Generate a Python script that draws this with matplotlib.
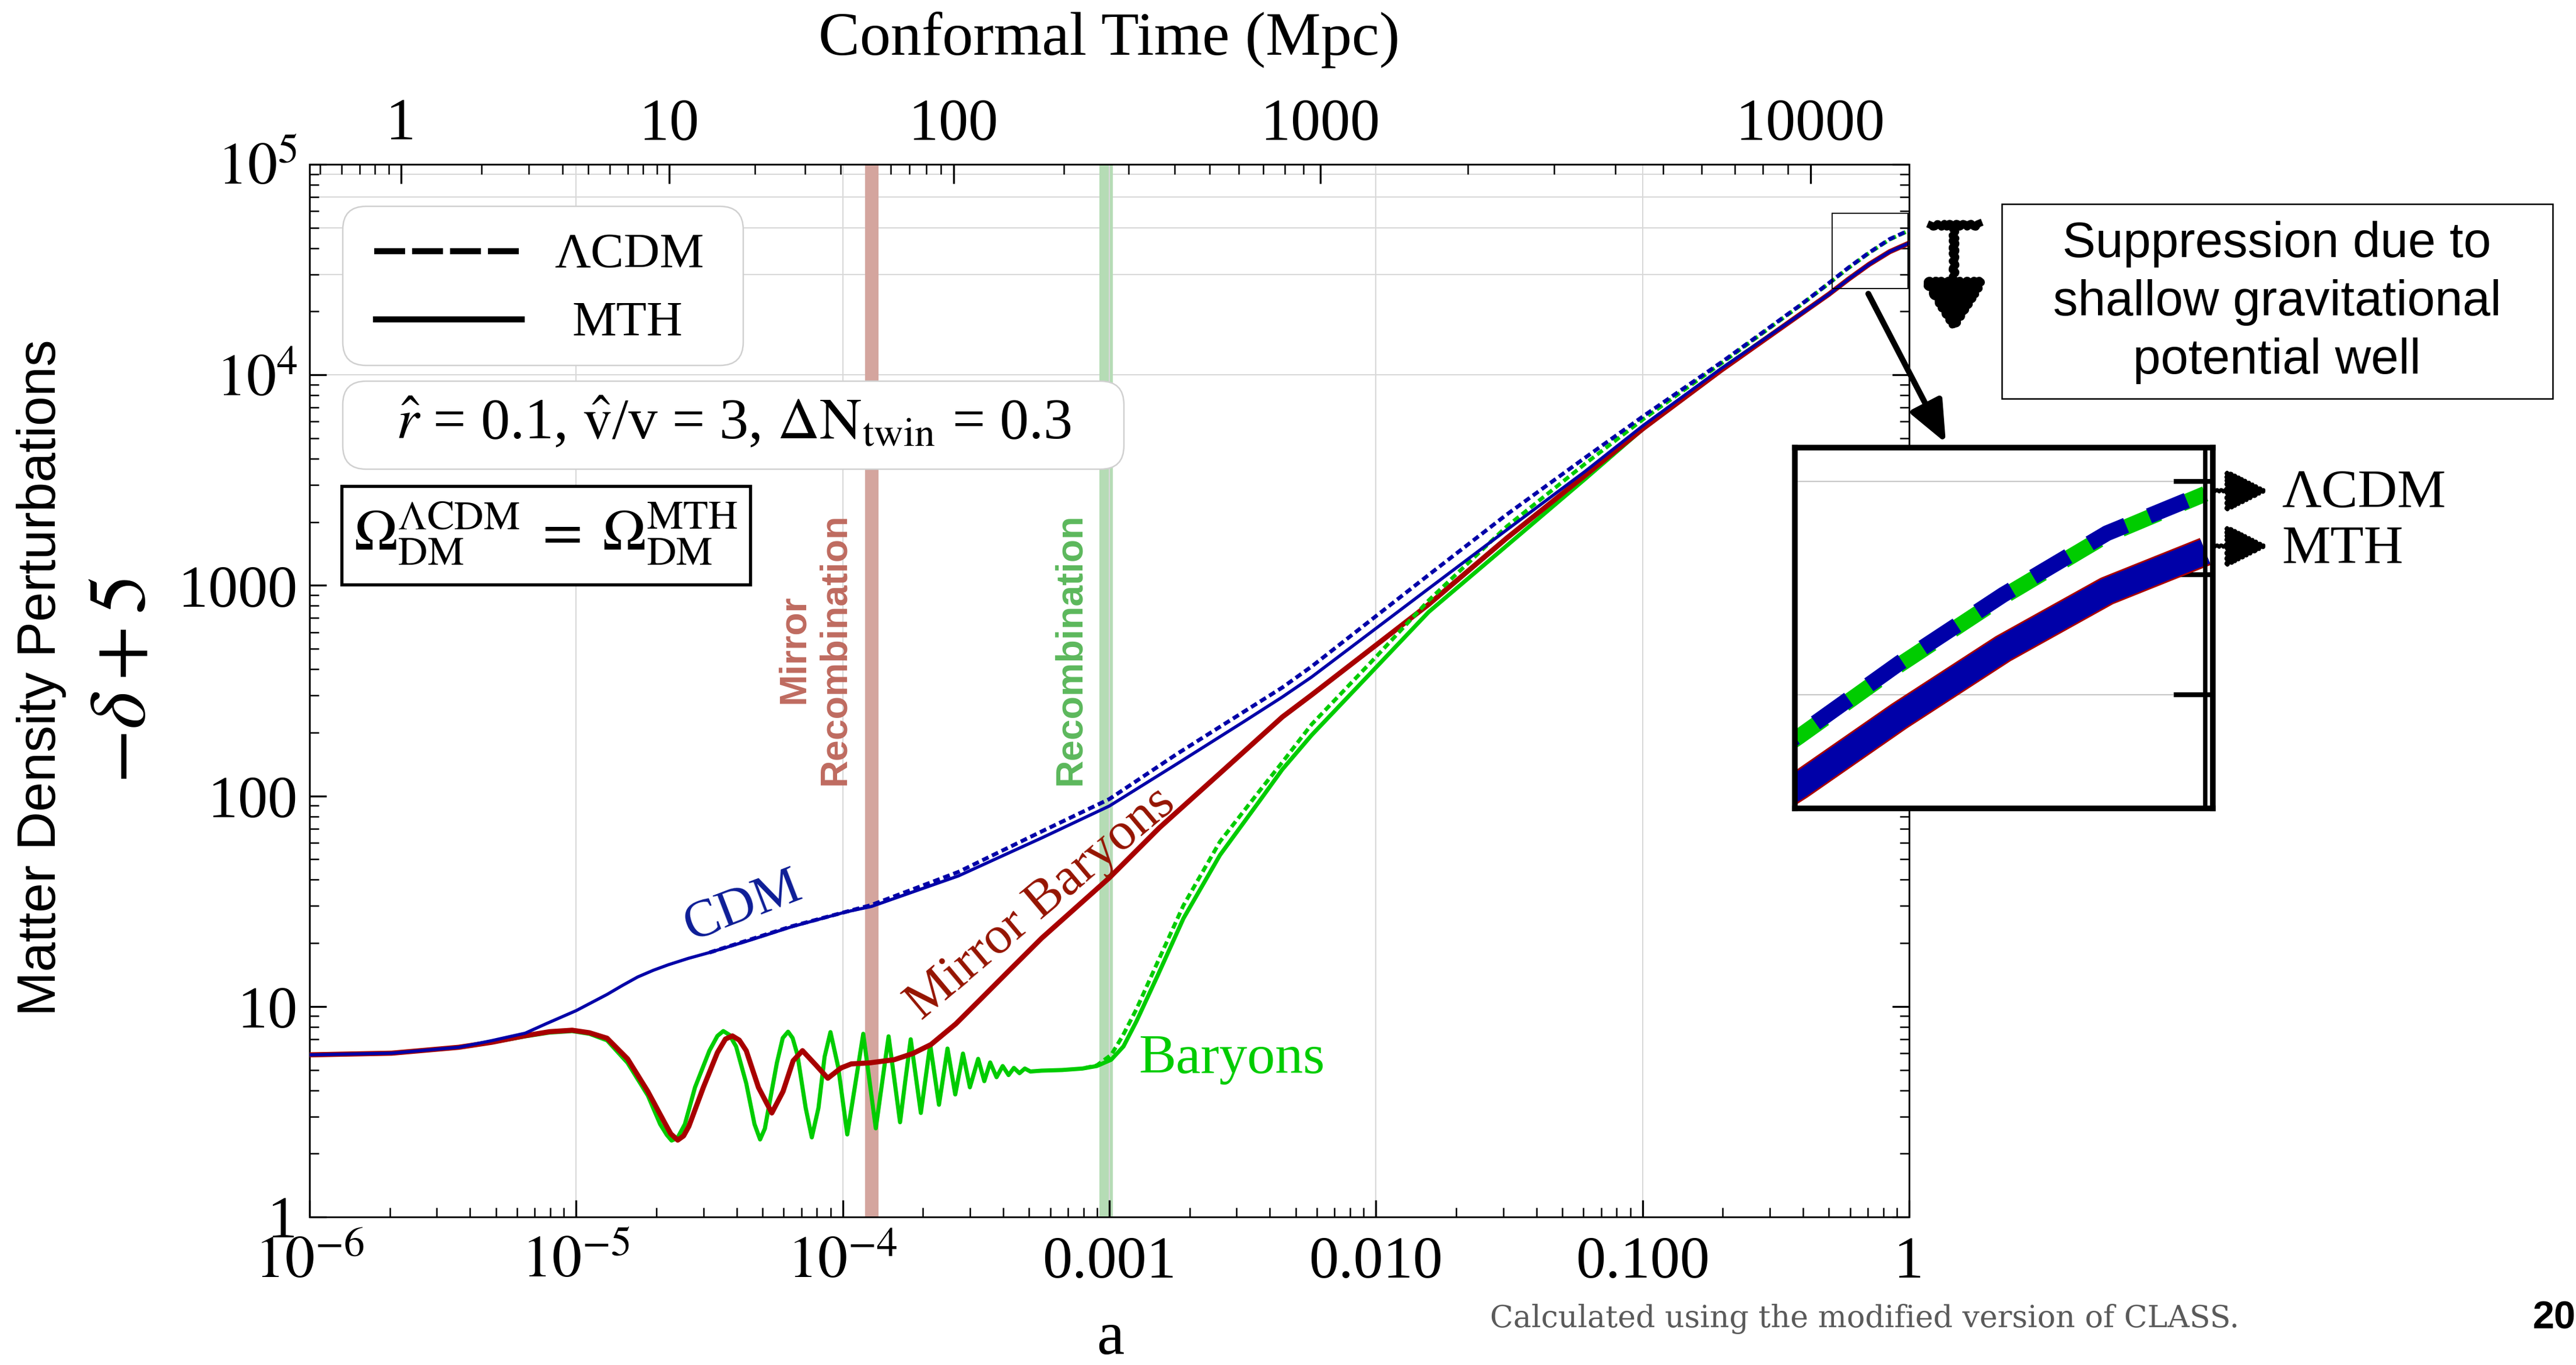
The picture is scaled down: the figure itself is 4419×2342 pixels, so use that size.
"""Density perturbation growth -delta+5 vs scale factor: CDM, baryons and mirror baryons (MTH vs LCDM)."""

import numpy as np
import matplotlib

matplotlib.use("Agg")
import matplotlib.pyplot as plt
from matplotlib.lines import Line2D
from matplotlib.patches import FancyArrowPatch, FancyBboxPatch, Rectangle
from matplotlib.ticker import FixedLocator, FuncFormatter, LogLocator, NullFormatter, NullLocator

W, H, DPI = 4419, 2342, 300

plt.rcParams["font.family"] = ["Liberation Serif", "DejaVu Serif"]
plt.rcParams["mathtext.fontset"] = "stix"
plt.rcParams["lines.scale_dashes"] = False
plt.rcParams["axes.linewidth"] = 0.7

# --- curves: log10(a) -> log10(-delta + 5) ---
cdm_log_a = [-6.0, -5.692, -5.44, -5.315, -5.191, -5.114, -5.0, -4.884, -4.826, -4.769,
             -4.71, -4.654, -4.58, -4.5, -4.347, -4.193, -3.988, -3.892, -3.566, -3.251,
             -3.0, -2.748, -2.499, -2.351, -2.241, -1.802, -1.509, -1.216, -0.997, -0.704,
             -0.411, -0.301, -0.227, -0.150, -0.073, 0.0]
cdm_log_y = [0.770, 0.778, 0.806, 0.838, 0.873, 0.917, 0.980, 1.057, 1.100, 1.140,
             1.172, 1.198, 1.228, 1.256, 1.315, 1.378, 1.449, 1.475, 1.620, 1.802,
             1.952, 2.151, 2.350, 2.470, 2.565, 2.985, 3.264, 3.541, 3.760, 4.031,
             4.285, 4.383, 4.455, 4.525, 4.585, 4.626]

lcdm_cdm_log_a = [-4.5, -4.193, -3.892, -3.566, -3.251, -3.0, -2.748, -2.499, -2.351, -2.241,
                  -1.802, -1.509, -1.216, -0.997, -0.704, -0.411, -0.301, -0.227, -0.150, -0.073,
                  0.0]
lcdm_cdm_log_y = [1.256, 1.380, 1.482, 1.639, 1.833, 1.985, 2.198, 2.397, 2.515, 2.615,
                  3.050, 3.337, 3.606, 3.804, 4.060, 4.329, 4.436, 4.510, 4.581, 4.645,
                  4.687]

mirror_log_a = [-6.0, -5.692, -5.44, -5.315, -5.191, -5.1, -5.015, -4.95, -4.884, -4.807,
                -4.731, -4.669, -4.645, -4.619, -4.597, -4.577, -4.523, -4.470, -4.440, -4.414,
                -4.388, -4.362, -4.316, -4.266, -4.224, -4.186, -4.151, -4.101, -4.056, -4.006,
                -3.968, -3.899, -3.807, -3.738, -3.669, -3.576, -3.484, -3.369, -3.254, -3.108,
                -3.0, -2.812, -2.561, -2.351, -2.241, -1.802, -1.509, -1.216, -0.997, -0.704,
                -0.411, -0.301, -0.227, -0.150, -0.073, 0.0]
mirror_log_y = [0.770, 0.778, 0.806, 0.830, 0.861, 0.880, 0.887, 0.875, 0.849, 0.751,
                0.596, 0.450, 0.395, 0.365, 0.385, 0.431, 0.615, 0.781, 0.845, 0.860,
                0.840, 0.790, 0.615, 0.494, 0.596, 0.742, 0.790, 0.722, 0.659, 0.708,
                0.727, 0.732, 0.747, 0.776, 0.819, 0.917, 1.033, 1.179, 1.324, 1.489,
                1.611, 1.849, 2.135, 2.375, 2.480, 2.910, 3.225, 3.522, 3.746, 4.023,
                4.285, 4.383, 4.455, 4.525, 4.585, 4.626]

baryon_log_a = [-6.0, -5.692, -5.44, -5.315, -5.191, -5.1, -5.015, -4.95, -4.884, -4.807,
                -4.731, -4.685, -4.660, -4.642, -4.620, -4.592, -4.554, -4.500, -4.470, -4.448,
                -4.425, -4.400, -4.362, -4.331, -4.310, -4.292, -4.278, -4.247, -4.225, -4.205,
                -4.188, -4.170, -4.139, -4.116, -4.091, -4.068, -4.046, -4.017, -3.983, -3.953,
                -3.923, -3.900, -3.876, -3.852, -3.828, -3.806, -3.785, -3.765, -3.745, -3.707,
                -3.672, -3.639, -3.607, -3.578, -3.549, -3.523, -3.492, -3.469, -3.447, -3.423,
                -3.400, -3.378, -3.358, -3.337, -3.317, -3.296, -3.254, -3.177, -3.101, -3.047,
                -2.993, -2.947, -2.898, -2.819, -2.722, -2.585, -2.436, -2.351, -2.241, -2.0,
                -1.802, -1.509, -1.216, -0.997, -0.704, -0.411, -0.301, -0.227, -0.150, -0.073,
                0.0]
baryon_log_y = [0.770, 0.778, 0.806, 0.830, 0.858, 0.876, 0.883, 0.870, 0.839, 0.732,
                0.577, 0.441, 0.390, 0.363, 0.375, 0.441, 0.616, 0.790, 0.860, 0.883,
                0.865, 0.810, 0.635, 0.441, 0.368, 0.420, 0.518, 0.732, 0.850, 0.880,
                0.850, 0.771, 0.518, 0.378, 0.518, 0.761, 0.878, 0.712, 0.392, 0.630,
                0.870, 0.650, 0.421, 0.640, 0.858, 0.650, 0.450, 0.650, 0.844, 0.494,
                0.819, 0.533, 0.800, 0.582, 0.776, 0.616, 0.751, 0.645, 0.734, 0.664,
                0.717, 0.674, 0.708, 0.683, 0.705, 0.691, 0.695, 0.698, 0.705, 0.717,
                0.747, 0.810, 0.930, 1.146, 1.418, 1.719, 1.977, 2.126, 2.289, 2.610,
                2.874, 3.189, 3.505, 3.745, 4.028, 4.285, 4.383, 4.455, 4.525, 4.585,
                4.626]

lcdm_baryon_log_a = [-3.101, -3.047, -2.993, -2.950, -2.898, -2.819, -2.722, -2.585, -2.429, -2.351,
                     -2.241, -2.0, -1.802, -1.509, -1.216, -0.997, -0.704, -0.411, -0.301, -0.227,
                     -0.150, -0.073, 0.0]
lcdm_baryon_log_y = [0.705, 0.720, 0.770, 0.860, 0.988, 1.210, 1.480, 1.783, 2.036, 2.160,
                     2.340, 2.660, 2.929, 3.280, 3.577, 3.790, 4.055, 4.327, 4.434, 4.508,
                     4.579, 4.643, 4.686]

# recombination epochs (scale factor ranges of the shaded bands)
mirror_recomb_a = (1.21e-4, 1.36e-4)
recomb_a = (9.2e-4, 1.03e-3)

# axis ticks; top axis: conformal time ticks and the scale factor where each sits
x_ticks = [1e-6, 1e-5, 1e-4, 1e-3, 1e-2, 1e-1, 1.0]
x_tick_labels = ["$10^{-6}$", "$10^{-5}$", "$10^{-4}$", "0.001", "0.010", "0.100", "1"]
y_ticks = [1, 10, 100, 1000, 1e4, 1e5]
y_tick_labels = ["1", "10", "100", "1000", "$10^{4}$", "$10^{5}$"]
top_tick_tau = [1, 10, 100, 1000, 10000]
top_tick_log_a = [-5.657, -4.651, -3.584, -2.209, -0.370]
grid_y = [1e4, 3e4, 5e4, 7e4, 9e4]

BLUE, RED, GREEN = "#0000a8", "#a80000", "#00cc00"


def fx(x):
    return x / W


def fy(y):
    return 1 - y / H


def curve(log_a, log_y):
    return 10 ** np.asarray(log_a), 10 ** np.asarray(log_y)


def extrap(x, xp, fp):
    """Piecewise-linear map with linear continuation past both ends."""
    x = np.asarray(x, float)
    xp, fp = np.asarray(xp, float), np.asarray(fp, float)
    lo = fp[0] + (x - xp[0]) * (fp[1] - fp[0]) / (xp[1] - xp[0])
    hi = fp[-1] + (x - xp[-1]) * (fp[-1] - fp[-2]) / (xp[-1] - xp[-2])
    return np.where(x < xp[0], lo, np.where(x > xp[-1], hi, np.interp(x, xp, fp)))


log_tau_nodes = np.log10(top_tick_tau)


def a_to_tau(a):
    return 10 ** extrap(np.log10(np.clip(np.asarray(a, float), 1e-30, None)), top_tick_log_a, log_tau_nodes)


def tau_to_a(t):
    return 10 ** extrap(np.log10(np.clip(np.asarray(t, float), 1e-30, None)), log_tau_nodes, top_tick_log_a)


fig = plt.figure(figsize=(W / DPI, H / DPI), dpi=DPI)
ax = fig.add_axes([fx(531), fy(2088), (3275 - 531) / W, (2088 - 282) / H])
ax.set_xscale("log")
ax.set_yscale("log")
ax.set_xlim(1e-6, 1)
ax.set_ylim(1, 1e5)

# grid and recombination bands
ax.grid(axis="x", which="major", color="#d8d8d8", lw=0.5, zorder=0)
for value in grid_y:
    ax.axhline(value, color="#d8d8d8", lw=0.5, zorder=0)
ax.axvspan(*mirror_recomb_a, color="#d4a59e", lw=0, zorder=1)
ax.axvspan(*recomb_a, color="#b5dcb5", lw=0, zorder=1)

ax.plot(*curve(baryon_log_a, baryon_log_y), color=GREEN, lw=1.7, zorder=3)
ax.plot(*curve(mirror_log_a, mirror_log_y), color=RED, lw=2.1, zorder=3.1)
green_dashed, = ax.plot(*curve(lcdm_baryon_log_a, lcdm_baryon_log_y), color=GREEN, lw=1.6, zorder=3.2)
green_dashed.set_dashes((0, 1.0, 2.8, 0.6))
ax.plot(*curve(cdm_log_a, cdm_log_y), color=BLUE, lw=1.3, zorder=3.4)
blue_dashed, = ax.plot(*curve(lcdm_cdm_log_a, lcdm_cdm_log_y), color=BLUE, lw=1.6, zorder=3.3)
blue_dashed.set_dashes((2.8, 1.6))

# axes ticks
ax.set_xticks(x_ticks, x_tick_labels)
ax.set_yticks(y_ticks, y_tick_labels)
ax.xaxis.set_minor_locator(LogLocator(base=10, subs=np.arange(2, 10), numticks=30))
ax.yaxis.set_minor_locator(LogLocator(base=10, subs=np.arange(2, 10), numticks=30))
ax.xaxis.set_minor_formatter(NullFormatter())
ax.yaxis.set_minor_formatter(NullFormatter())
ax.tick_params(which="major", direction="in", length=7, width=0.8, labelsize=24.5, top=False, right=True)
ax.tick_params(which="minor", direction="in", length=3.8, width=0.6, top=False, right=True)
ax.tick_params(axis="x", pad=25)
ax.tick_params(axis="y", pad=5)
for label in ax.get_xticklabels():
    label.set_verticalalignment("baseline")

secax = ax.secondary_xaxis("top", functions=(a_to_tau, tau_to_a))
secax.xaxis.set_major_locator(FixedLocator(top_tick_tau))
secax.xaxis.set_major_formatter(FuncFormatter(lambda v, p: f"{v:g}"))
secax.xaxis.set_minor_formatter(NullFormatter())
secax.tick_params(which="major", direction="in", length=8, width=0.8, labelsize=24.5, pad=5)
secax.tick_params(which="minor", direction="in", length=4, width=0.6)
secax.set_xlabel("Conformal Time (Mpc)", fontsize=25.5, labelpad=18)

# curve and band labels
fig.text(fx(1274), fy(1556), "CDM", color="#0d1d96", fontsize=22, rotation=21, ha="center", va="center")
fig.text(fx(1786), fy(1550), "Mirror Baryons", color="#951400", fontsize=22, rotation=40,
         ha="center", va="center")
fig.text(fx(1953), fy(1818), "Baryons", color=GREEN, fontsize=23, ha="left", va="center")
fig.text(fx(1397), fy(1114), "Mirror\nRecombination", color="#bf6b60", fontsize=15.5, rotation=90,
         ha="center", va="center", multialignment="center", family="Liberation Sans", weight="bold")
fig.text(fx(1836), fy(1114), "Recombination", color="#5cb85c", fontsize=15.5, rotation=90,
         ha="center", va="center", family="Liberation Sans", weight="bold")

# legend box (rounded, light grey) with centered entries
fig.patches.append(FancyBboxPatch((fx(588), fy(627)), (1275 - 588) / W, (627 - 354) / H,
                                  boxstyle=f"round,pad=0,rounding_size={40 / W}", mutation_aspect=W / H,
                                  transform=fig.transFigure, fc="white", ec="#d0d0d0", lw=0.6, zorder=5))
legend_dashed = Line2D([fx(642), fx(897)], [fy(431), fy(431)], color="black", lw=2.5,
                       transform=fig.transFigure, zorder=6)
legend_dashed.set_dashes((12.7, 2.9))
fig.lines.append(legend_dashed)
fig.lines.append(Line2D([fx(645), fx(895)], [fy(548), fy(548)], color="black", lw=2.5,
                        transform=fig.transFigure, zorder=6))
fig.text(fx(1079), fy(438), "ΛCDM", fontsize=20.5, ha="center", va="center", zorder=6)
fig.text(fx(1076), fy(555), "MTH", fontsize=20.5, ha="center", va="center", zorder=6)

# parameter box
fig.patches.append(FancyBboxPatch((fx(588), fy(805)), (1928 - 588) / W, (805 - 654) / H,
                                  boxstyle=f"round,pad=0,rounding_size={40 / W}", mutation_aspect=W / H,
                                  transform=fig.transFigure, fc="white", ec="#d0d0d0", lw=0.6, zorder=5))
fig.text(fx(1258), fy(727), r"$\hat{r}$ = 0.1, $\hat{\mathrm{v}}$/v = 3, $\Delta\mathrm{N}_{\mathrm{twin}}$ = 0.3",
         fontsize=24, ha="center", va="center", zorder=6)

# dark matter density box
fig.patches.append(Rectangle((fx(586), fy(1003)), (1287 - 586) / W, (1003 - 834) / H,
                             transform=fig.transFigure, fc="white", ec="black", lw=1.3, zorder=5))
fig.text(fx(936), fy(915), r"$\Omega_{\mathrm{DM}}^{\Lambda\mathrm{CDM}}\;=\;\Omega_{\mathrm{DM}}^{\mathrm{MTH}}$",
         fontsize=24, ha="center", va="center", zorder=6)

# zoom region marker and arrow to the inset
ax.add_patch(Rectangle((0.514, 2.57e4), 0.99 - 0.514, 5.85e4 - 2.57e4, fill=False, ec="black", lw=0.45, zorder=4))
fig.add_artist(FancyArrowPatch((fx(3205), fy(504)), (fx(3338), fy(760)), transform=fig.transFigure,
                               arrowstyle="-|>,head_length=0.4,head_width=0.17", mutation_scale=36,
                               lw=2.4, color="black", shrinkA=0, shrinkB=0, zorder=10))

# hand-drawn suppression arrow
bar = Line2D([fx(3312), fx(3394)], [fy(386), fy(386)], color="black", lw=3, transform=fig.transFigure)
bar.set_sketch_params(3, 15, 3)
fig.lines.append(bar)
drawn = FancyArrowPatch((fx(3352), fy(386)), (fx(3352), fy(569)), transform=fig.transFigure,
                        arrowstyle="-|>,head_length=0.44,head_width=0.28", mutation_scale=40,
                        lw=3, color="black", shrinkA=0, shrinkB=0, zorder=10)
drawn.set_sketch_params(3, 15, 3)
fig.add_artist(drawn)

fig.patches.append(Rectangle((fx(3434), fy(684)), (4379 - 3434) / W, (684 - 350) / H,
                             transform=fig.transFigure, fill=False, ec="black", lw=0.6))
fig.text(fx(3906), fy(519), "Suppression due to\nshallow gravitational\npotential well",
         family="Liberation Sans", fontsize=20.5, ha="center", va="center", linespacing=1.33)

# inset zoom of the late-time growth
inset = fig.add_axes([fx(3079), fy(1387), (3796 - 3079) / W, (1387 - 768) / H])
inset.set_xscale("log")
inset.set_yscale("log")
inset.set_xlim(0.496, 1.013)
inset.set_ylim(10**4.359, 10**4.734)
for value in (3e4, 5e4):
    inset.axhline(value, color="#c8c8c8", lw=0.55, zorder=0)
inset.plot(*curve(baryon_log_a, baryon_log_y), color=GREEN, lw=10.8, solid_capstyle="butt", zorder=2)
inset.plot(*curve(mirror_log_a, mirror_log_y), color=RED, lw=12, solid_capstyle="butt", zorder=2.1)
inset.plot(*curve(cdm_log_a, cdm_log_y), color=BLUE, lw=10.6, solid_capstyle="butt", zorder=2.2)
inset_green, = inset.plot(*curve(lcdm_baryon_log_a, lcdm_baryon_log_y), color=GREEN, lw=6.5, zorder=2.3)
inset_green.set_dashes((0, 6.7, 16.8, 3.5))
inset_blue, = inset.plot(*curve(lcdm_cdm_log_a, lcdm_cdm_log_y), color=BLUE, lw=6.5, zorder=2.4)
inset_blue.set_dashes((16.8, 10.2))
inset.axvline(1.0, color="black", lw=1.8, zorder=3)
inset.xaxis.set_major_locator(NullLocator())
inset.xaxis.set_minor_locator(NullLocator())
inset.yaxis.set_major_locator(FixedLocator([3e4, 4e4, 5e4]))
inset.yaxis.set_minor_locator(NullLocator())
inset.yaxis.set_major_formatter(NullFormatter())
inset.yaxis.set_ticks_position("right")
inset.tick_params(axis="y", direction="in", length=16, width=2, labelright=False, labelleft=False)
for spine in inset.spines.values():
    spine.set_linewidth(2.3)

for y_px, label in ((842, "ΛCDM"), (937, "MTH")):
    pointer = FancyArrowPatch((fx(3796), fy(y_px)), (fx(3890), fy(y_px)), transform=fig.transFigure,
                              arrowstyle="-|>,head_length=0.5,head_width=0.25", mutation_scale=30,
                              lw=1.5, color="black", shrinkA=0, shrinkB=0, zorder=10)
    pointer.set_sketch_params(1.5, 8, 2)
    fig.add_artist(pointer)
    fig.text(fx(3914), fy(y_px + 6), label, fontsize=22.5, ha="left", va="center")

# axis titles and footer
fig.text(fx(71), fy(1163), "Matter Density Perturbations", family="Liberation Sans", fontsize=22,
         rotation=90, ha="center", va="center")
fig.text(fx(214), fy(1168), r"$-\delta + 5$", fontsize=33, rotation=90, ha="center", va="center")
fig.text(fx(1905), fy(2298), "a", fontsize=25.5, ha="center", va="center")
fig.text(fx(2556), fy(2263), "Calculated using the modified version of CLASS.", family="DejaVu Serif",
         fontsize=12.5, color="#5a5a5a", ha="left", va="center")
fig.text(fx(4345), fy(2263), "20", family="Liberation Sans", weight="bold", fontsize=16, ha="left", va="center")

fig.savefig("out.png", dpi=DPI)
